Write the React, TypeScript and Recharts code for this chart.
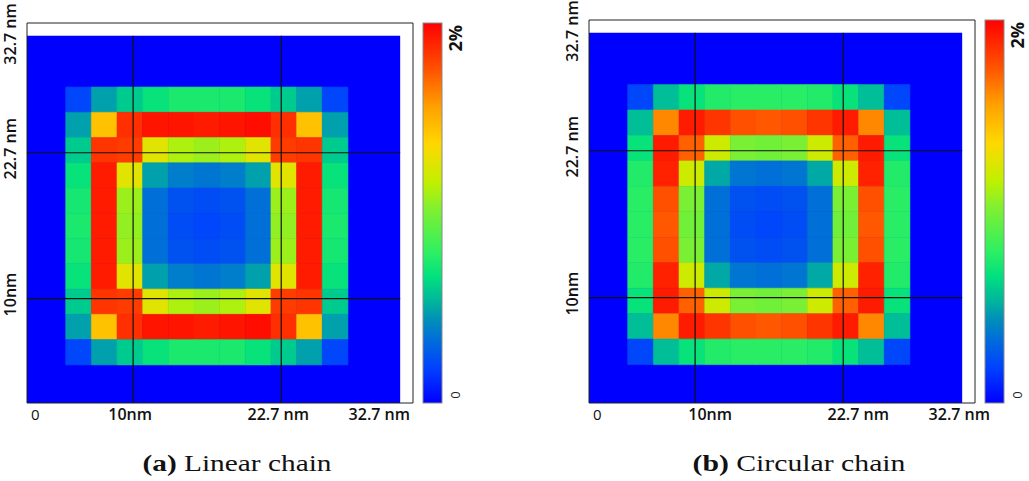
import React from "react";
import { ComposedChart, XAxis, YAxis, ReferenceArea, ReferenceLine } from "recharts";

// Strain maps (in %), one row per cell row from top to bottom, 11 x 11 cells
const linearChain = [
  [0.2, 0.48, 0.6, 0.68, 0.74, 0.74, 0.74, 0.68, 0.6, 0.48, 0.2],
  [0.48, 1.44, 1.86, 1.94, 1.94, 1.92, 1.94, 1.96, 1.86, 1.44, 0.48],
  [0.6, 1.84, 1.82, 1.26, 1.12, 1.08, 1.12, 1.26, 1.82, 1.84, 0.6],
  [0.68, 1.92, 1.26, 0.48, 0.38, 0.36, 0.38, 0.48, 1.26, 1.92, 0.68],
  [0.72, 1.92, 1.08, 0.34, 0.24, 0.22, 0.24, 0.34, 1.08, 1.92, 0.72],
  [0.74, 1.92, 1.06, 0.34, 0.22, 0.2, 0.22, 0.34, 1.06, 1.92, 0.74],
  [0.72, 1.92, 1.08, 0.34, 0.24, 0.22, 0.24, 0.34, 1.08, 1.92, 0.72],
  [0.68, 1.92, 1.26, 0.48, 0.38, 0.36, 0.38, 0.48, 1.26, 1.92, 0.68],
  [0.6, 1.84, 1.82, 1.26, 1.12, 1.08, 1.12, 1.26, 1.82, 1.84, 0.6],
  [0.48, 1.44, 1.86, 1.94, 1.94, 1.92, 1.94, 1.96, 1.86, 1.44, 0.48],
  [0.2, 0.48, 0.6, 0.68, 0.74, 0.74, 0.74, 0.68, 0.6, 0.48, 0.2],
];

const circularChain = [
  [0.2, 0.56, 0.68, 0.76, 0.78, 0.78, 0.78, 0.76, 0.68, 0.56, 0.2],
  [0.56, 1.62, 1.92, 1.84, 1.76, 1.74, 1.76, 1.84, 1.92, 1.62, 0.56],
  [0.68, 1.92, 1.72, 1.2, 1.0, 0.98, 1.0, 1.2, 1.72, 1.92, 0.68],
  [0.76, 1.9, 1.2, 0.5, 0.36, 0.34, 0.36, 0.5, 1.2, 1.9, 0.76],
  [0.78, 1.76, 1.0, 0.34, 0.24, 0.22, 0.24, 0.34, 1.0, 1.76, 0.78],
  [0.78, 1.74, 0.98, 0.34, 0.22, 0.2, 0.22, 0.34, 0.98, 1.74, 0.78],
  [0.78, 1.76, 1.0, 0.34, 0.24, 0.22, 0.24, 0.34, 1.0, 1.76, 0.78],
  [0.76, 1.9, 1.2, 0.5, 0.36, 0.34, 0.36, 0.5, 1.2, 1.9, 0.76],
  [0.68, 1.92, 1.72, 1.2, 1.0, 0.98, 1.0, 1.2, 1.72, 1.92, 0.68],
  [0.56, 1.62, 1.92, 1.84, 1.76, 1.74, 1.76, 1.84, 1.92, 1.62, 0.56],
  [0.2, 0.56, 0.68, 0.76, 0.78, 0.78, 0.78, 0.76, 0.68, 0.56, 0.2],
];

const xTicks = [0.9, 10, 22.7, 34];
const xTickLabels = ["0", "10nm", "22.7 nm", "32.7 nm"];
const yTicks = [10, 22.7, 32.7];
const yTickLabels = ["10nm", "22.7 nm", "32.7 nm"];
const guideLines = [10, 22.7];
const colorbarLabels = ["0", "2%"];

const MAX_STRAIN = 2;
const DOMAIN: [number, number] = [0.9, 34];
const SUBSTRATE: [number, number] = [0.9, 32.9];
const GRID_START = 4.22;
const CELL = 2.2;
const GRID_END = GRID_START + 11 * CELL;

// jet-like colour ramp, position 0..1 of the strain range
const COLORMAP: [number, string][] = [
  [0.0, "#0000ff"],
  [0.09, "#0040ff"],
  [0.17, "#0070d8"],
  [0.22, "#0090b8"],
  [0.26, "#00b0a0"],
  [0.33, "#00e080"],
  [0.4, "#30f060"],
  [0.51, "#80f030"],
  [0.58, "#c0f000"],
  [0.68, "#ffd800"],
  [0.78, "#ffa000"],
  [0.88, "#ff5000"],
  [1.0, "#ff0000"],
];

const hex = (c: string) => [1, 3, 5].map((i) => parseInt(c.slice(i, i + 2), 16));

const strainColor = (v: number) => {
  const t = Math.max(0, Math.min(1, v / MAX_STRAIN));
  for (let i = 1; i < COLORMAP.length; i++) {
    const [p1, c1] = COLORMAP[i];
    if (t <= p1) {
      const [p0, c0] = COLORMAP[i - 1];
      const k = (t - p0) / (p1 - p0);
      const a = hex(c0);
      const b = hex(c1);
      const rgb = a.map((x, j) => Math.round(x + (b[j] - x) * k));
      return `rgb(${rgb.join(",")})`;
    }
  }
  return COLORMAP[COLORMAP.length - 1][1];
};

const TICK_FONT = "'Open Sans', sans-serif";

const XTick = (props: any) => {
  const { x, y, payload, shift } = props;
  const i = xTicks.indexOf(payload.value);
  const anchor = i === 0 ? "start" : i === xTicks.length - 1 ? "end" : "middle";
  const dx = i === 0 ? 4 : shift;
  return (
    <text
      x={x + dx}
      y={y + 3}
      textAnchor={anchor}
      dominantBaseline="central"
      fontFamily={TICK_FONT}
      fontWeight={i === 0 ? 400 : 600}
      fontSize={i === 0 ? 15 : 16}
      fill="#111"
    >
      {xTickLabels[i]}
    </text>
  );
};

const YTick = (props: any) => {
  const { x, y, payload } = props;
  const i = yTicks.indexOf(payload.value);
  return (
    <text
      transform={`translate(${x - 9},${y - 4}) rotate(-90)`}
      textAnchor="middle"
      dominantBaseline="central"
      fontFamily={TICK_FONT}
      fontWeight={600}
      fontSize={16}
      fill="#111"
    >
      {yTickLabels[i]}
    </text>
  );
};

type PanelProps = {
  id: string;
  left: number;
  top: number;
  rows: number[][];
  tag: string;
  title: string;
  titleWidth: number;
  shift: number;
};

const StrainPanel = ({ id, left, top, rows, tag, title, titleWidth, shift }: PanelProps) => {
  const plotBottom = 403;
  const barX = 423;
  const barH = plotBottom - top;
  return (
    <div style={{ position: "absolute", left, top: 0, width: 480, height: 481 }}>
      <ComposedChart width={480} height={430} margin={{ top, right: 67, bottom: 7, left: 0 }}>
        <XAxis
          type="number"
          dataKey="x"
          domain={DOMAIN}
          ticks={xTicks}
          interval={0}
          axisLine={false}
          tickLine={false}
          height={20}
          tick={<XTick shift={shift} />}
          allowDataOverflow
        />
        <YAxis
          type="number"
          dataKey="y"
          domain={DOMAIN}
          ticks={yTicks}
          interval={0}
          axisLine={false}
          tickLine={false}
          width={27}
          tick={<YTick />}
          allowDataOverflow
        />
        <ReferenceArea
          x1={SUBSTRATE[0]}
          x2={SUBSTRATE[1]}
          y1={SUBSTRATE[0]}
          y2={SUBSTRATE[1]}
          fill="#0000ff"
          fillOpacity={1}
          stroke="none"
          ifOverflow="visible"
        />
        {rows.flatMap((row, r) =>
          row.map((v, c) => (
            <ReferenceArea
              key={`${id}-${r}-${c}`}
              x1={GRID_START + c * CELL}
              x2={GRID_START + (c + 1) * CELL}
              y1={GRID_END - (r + 1) * CELL}
              y2={GRID_END - r * CELL}
              fill={strainColor(v)}
              fillOpacity={1}
              stroke={strainColor(v)}
              strokeWidth={0.6}
              ifOverflow="visible"
            />
          ))
        )}
        {guideLines.map((g) => (
          <ReferenceLine
            key={`${id}-v${g}`}
            segment={[
              { x: g, y: SUBSTRATE[0] },
              { x: g, y: SUBSTRATE[1] },
            ]}
            stroke="#111"
            strokeWidth={1.2}
            ifOverflow="visible"
          />
        ))}
        {guideLines.map((g) => (
          <ReferenceLine
            key={`${id}-h${g}`}
            segment={[
              { x: SUBSTRATE[0], y: g },
              { x: SUBSTRATE[1], y: g },
            ]}
            stroke="#111"
            strokeWidth={1.2}
            ifOverflow="visible"
          />
        ))}
        <ReferenceArea
          x1={DOMAIN[0]}
          x2={DOMAIN[1]}
          y1={DOMAIN[0]}
          y2={DOMAIN[1]}
          fill="none"
          stroke="#222"
          strokeWidth={1}
          ifOverflow="visible"
        />
      </ComposedChart>
      <svg
        width={480}
        height={481}
        style={{ position: "absolute", left: 0, top: 0, pointerEvents: "none" }}
      >
        <defs>
          <linearGradient id={`ramp-${id}`} x1="0" y1="1" x2="0" y2="0">
            {COLORMAP.map(([p, c]) => (
              <stop key={p} offset={p} stopColor={c} />
            ))}
          </linearGradient>
        </defs>
        <rect
          x={barX}
          y={top}
          width={19}
          height={barH}
          fill={`url(#ramp-${id})`}
          stroke="#8a8a8a"
          strokeWidth={1}
        />
        <text
          transform={`translate(${barX + 32},${plotBottom - 8}) rotate(-90)`}
          textAnchor="middle"
          dominantBaseline="central"
          fontFamily={TICK_FONT}
          fontSize={13}
          fill="#222"
        >
          {colorbarLabels[0]}
        </text>
        <text
          transform={`translate(${barX + 32},${top + 2}) rotate(-90)`}
          textAnchor="end"
          dominantBaseline="central"
          fontFamily={TICK_FONT}
          fontWeight={700}
          fontSize={18}
          fill="#111"
        >
          {colorbarLabels[1]}
        </text>
        <text
          x={237 - titleWidth / 2}
          y={471}
          textLength={titleWidth}
          lengthAdjust="spacingAndGlyphs"
          fontFamily="'Liberation Serif', serif"
          fontSize={24}
          fill="#111"
        >
          <tspan fontWeight={700}>{tag}</tspan>
          <tspan> {title}</tspan>
        </text>
      </svg>
    </div>
  );
};

export default function App() {
  return (
    <div
      style={{
        position: "absolute",
        left: 0,
        top: 0,
        width: 1029,
        height: 481,
        background: "#fff",
        overflow: "hidden",
      }}
    >
      <StrainPanel id="a" left={0} top={23} rows={linearChain} tag="(a)" title="Linear chain" titleWidth={189} shift={-3} />
      <StrainPanel id="b" left={562} top={20} rows={circularChain} tag="(b)" title="Circular chain" titleWidth={213} shift={15} />
    </div>
  );
}
